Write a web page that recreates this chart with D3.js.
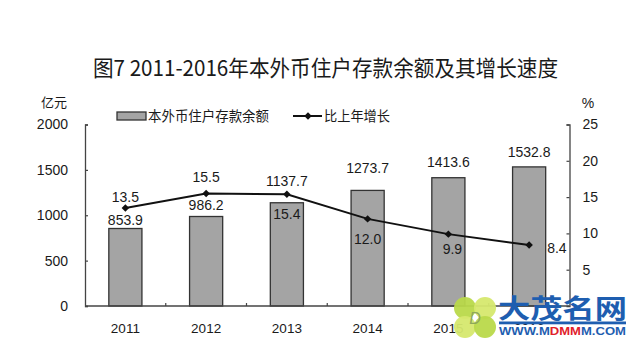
<!DOCTYPE html>
<html>
<head>
<meta charset="utf-8">
<script src="https://cdn.jsdelivr.net/npm/d3@7"></script>
<style>
  body { margin: 0; background: #fff; }
  text { font-family: "Liberation Sans", Arial, sans-serif; fill: #1a1a1a; }
  .cjk { font-family: "Noto Sans CJK SC", sans-serif; }
</style>
</head>
<body>
<div class="container"></div>
<script>
const WIDTH = 640;
const HEIGHT = 352;

// data
var years = ["2011", "2012", "2013", "2014", "2015", "2016"];
var deposits = [853.9, 986.2, 1137.7, 1273.7, 1413.6, 1532.8];   // 亿元
var growth = [13.5, 15.5, 15.4, 12.0, 9.9, 8.4];                 // %
var leftTicks = [0, 500, 1000, 1500, 2000];
var rightTicks = [5, 10, 15, 20, 25];

// layout
const PLOT_LEFT = 85, PLOT_RIGHT = 569.5, PLOT_TOP = 124.5, PLOT_BOTTOM = 306;
var barLabelGap = [8, 11, 22, 22, 16, 15];
var growthLabelPos = ["top", "top", "bottom", "bottom", "bottom", "right"];

var svg = d3.select('.container').append('svg')
    .attr('width', WIDTH)
    .attr('height', HEIGHT);

var xScale = d3.scaleBand().domain(years)
    .range([PLOT_LEFT, PLOT_RIGHT])
    .paddingInner(0.59).paddingOuter(0.295);
var yLeft = d3.scaleLinear().domain([0, 2000]).range([PLOT_BOTTOM, PLOT_TOP]);
var yRight = d3.scaleLinear().domain([0, 25]).range([PLOT_BOTTOM, PLOT_TOP]);
var cx = function(d) { return xScale(d) + xScale.bandwidth() / 2; };

// title
svg.append('text').attr('class', 'cjk')
    .attr('x', 93).attr('y', 68).attr('dy', '0.35em')
    .attr('font-size', 22)
    .attr('textLength', 465).attr('lengthAdjust', 'spacingAndGlyphs')
    .text('图7 2011-2016年本外币住户存款余额及其增长速度');

// unit labels
svg.append('text').attr('class', 'cjk')
    .attr('x', 54).attr('y', 102).attr('dy', '0.35em')
    .attr('text-anchor', 'middle').attr('font-size', 13)
    .text('亿元');
svg.append('text')
    .attr('x', 588).attr('y', 103).attr('dy', '0.35em')
    .attr('text-anchor', 'middle').attr('font-size', 14)
    .text('%');

// bars
svg.append('g').selectAll('rect')
    .data(deposits)
    .enter().append('rect')
    .attr('x', function(d, i) { return xScale(years[i]); })
    .attr('y', function(d) { return yLeft(d); })
    .attr('width', xScale.bandwidth())
    .attr('height', function(d) { return PLOT_BOTTOM - yLeft(d); })
    .attr('fill', '#a4a4a4')
    .attr('stroke', '#333')
    .attr('stroke-width', 1.3);

// axes
var leftAxis = svg.append('g')
    .attr('transform', 'translate(' + PLOT_LEFT + ',0)')
    .call(d3.axisLeft(yLeft).tickValues(leftTicks).tickFormat(d3.format('d'))
        .tickSize(-3).tickPadding(17));
var rightAxis = svg.append('g')
    .attr('transform', 'translate(' + PLOT_RIGHT + ',0)')
    .call(d3.axisRight(yRight).tickValues(rightTicks).tickFormat(d3.format('d'))
        .tickSize(-3).tickPadding(13));
var bottomAxis = svg.append('g')
    .attr('transform', 'translate(0,' + PLOT_BOTTOM + ')')
    .call(d3.axisBottom(xScale).tickSize(0).tickPadding(17));

[leftAxis, rightAxis, bottomAxis].forEach(function(a) {
    a.select('.domain').attr('stroke', '#444').attr('stroke-width', 1.3);
    a.selectAll('.tick line').attr('stroke', '#444').attr('stroke-width', 1.2);
    a.selectAll('text').attr('font-size', 14)
        .attr('font-family', '"Liberation Sans", Arial, sans-serif').attr('fill', '#1a1a1a');
});
bottomAxis.selectAll('text').attr('font-size', 13.5);
bottomAxis.select('.domain').attr('d', 'M' + PLOT_LEFT + ',0H' + PLOT_RIGHT);

// category boundary ticks
svg.append('g').selectAll('line')
    .data(years.slice(1))
    .enter().append('line')
    .attr('x1', function(d) { return xScale(d) - xScale.step() * xScale.paddingInner() / 2; })
    .attr('x2', function(d) { return xScale(d) - xScale.step() * xScale.paddingInner() / 2; })
    .attr('y1', PLOT_BOTTOM).attr('y2', PLOT_BOTTOM - 3)
    .attr('stroke', '#444').attr('stroke-width', 1.2);

// growth line
var line = d3.line()
    .x(function(d, i) { return cx(years[i]); })
    .y(function(d) { return yRight(d); });
svg.append('path')
    .attr('d', line(growth))
    .attr('fill', 'none')
    .attr('stroke', '#111')
    .attr('stroke-width', 2);

var diamond = d3.symbol().type(d3.symbolSquare).size(28);
svg.append('g').selectAll('path')
    .data(growth)
    .enter().append('path')
    .attr('d', diamond)
    .attr('transform', function(d, i) {
        return 'translate(' + cx(years[i]) + ',' + yRight(d) + ') rotate(45)';
    })
    .attr('fill', '#111');

// bar labels
svg.append('g').selectAll('text')
    .data(deposits)
    .enter().append('text')
    .attr('x', function(d, i) { return cx(years[i]); })
    .attr('y', function(d, i) { return yLeft(d) - barLabelGap[i]; })
    .attr('dy', '0.35em')
    .attr('text-anchor', 'middle')
    .attr('font-size', 14)
    .text(function(d) { return d.toFixed(1); });

// growth labels
svg.append('g').selectAll('text')
    .data(growth)
    .enter().append('text')
    .attr('x', function(d, i) {
        return growthLabelPos[i] === 'right' ? cx(years[i]) + 18 : cx(years[i]) + (i === 4 ? 4 : 0);
    })
    .attr('y', function(d, i) {
        var p = growthLabelPos[i], y = yRight(d);
        if (p === 'top') return y - (i === 0 ? 11 : 16);
        if (p === 'bottom') return y + (i === 4 ? 15 : 20);
        return y + 3;
    })
    .attr('dy', '0.35em')
    .attr('text-anchor', function(d, i) { return growthLabelPos[i] === 'right' ? 'start' : 'middle'; })
    .attr('font-size', 14)
    .text(function(d) { return d.toFixed(1); });

// legend
var legend = svg.append('g');
legend.append('rect')
    .attr('x', 117).attr('y', 112).attr('width', 29).attr('height', 8)
    .attr('fill', '#a4a4a4').attr('stroke', '#333').attr('stroke-width', 1.3);
legend.append('text').attr('class', 'cjk')
    .attr('x', 148).attr('y', 116).attr('dy', '0.35em')
    .attr('font-size', 14)
    .attr('textLength', 121).attr('lengthAdjust', 'spacingAndGlyphs')
    .text('本外币住户存款余额');
legend.append('line')
    .attr('x1', 293).attr('x2', 322).attr('y1', 116).attr('y2', 116)
    .attr('stroke', '#111').attr('stroke-width', 2);
legend.append('path')
    .attr('d', diamond)
    .attr('transform', 'translate(308,116) rotate(45)')
    .attr('fill', '#111');
legend.append('text').attr('class', 'cjk')
    .attr('x', 324).attr('y', 116).attr('dy', '0.35em')
    .attr('font-size', 14)
    .attr('textLength', 66).attr('lengthAdjust', 'spacingAndGlyphs')
    .text('比上年增长');

// watermark
var wm = svg.append('g');
var leaves = [[-10, -9], [10, -9], [-10, 10], [10, 10]];
wm.selectAll('circle')
    .data(leaves)
    .enter().append('circle')
    .attr('cx', function(d) { return 475 + d[0]; })
    .attr('cy', function(d) { return 317 + d[1]; })
    .attr('r', 11)
    .attr('fill', function(d, i) { return i % 3 === 0 ? '#b9d94a' : '#d6e86e'; })
    .attr('opacity', 0.95);
wm.append('text')
    .attr('x', 475).attr('y', 318).attr('dy', '0.35em')
    .attr('text-anchor', 'middle')
    .attr('font-family', '"DejaVu Serif", serif').attr('font-style', 'italic')
    .attr('font-size', 16).style('fill', '#8fa85a')
    .text('D');
wm.append('text').attr('class', 'cjk')
    .attr('x', 498).attr('y', 309).attr('dy', '0.35em')
    .attr('font-size', 26).attr('font-weight', 'bold')
    .attr('textLength', 129).attr('lengthAdjust', 'spacingAndGlyphs')
    .style('fill', '#1e5eb0')
    .text('大茂名网');
wm.append('rect')
    .attr('x', 499).attr('y', 321.5).attr('width', 127).attr('height', 2.8)
    .attr('fill', '#1e5eb0');
wm.append('rect')
    .attr('x', 497).attr('y', 325).attr('width', 132).attr('height', 13)
    .attr('fill', '#fff');
var url = wm.append('text')
    .attr('x', 499).attr('y', 331).attr('dy', '0.35em')
    .attr('font-size', 11.5).attr('font-weight', 'bold')
    .attr('textLength', 127).attr('lengthAdjust', 'spacingAndGlyphs');
url.append('tspan').style('fill', '#1e5eb0').text('WWW.M');
url.append('tspan').style('fill', '#e0202a').text('DMM');
url.append('tspan').style('fill', '#1e5eb0').text('M.COM');
</script>
</body>
</html>
